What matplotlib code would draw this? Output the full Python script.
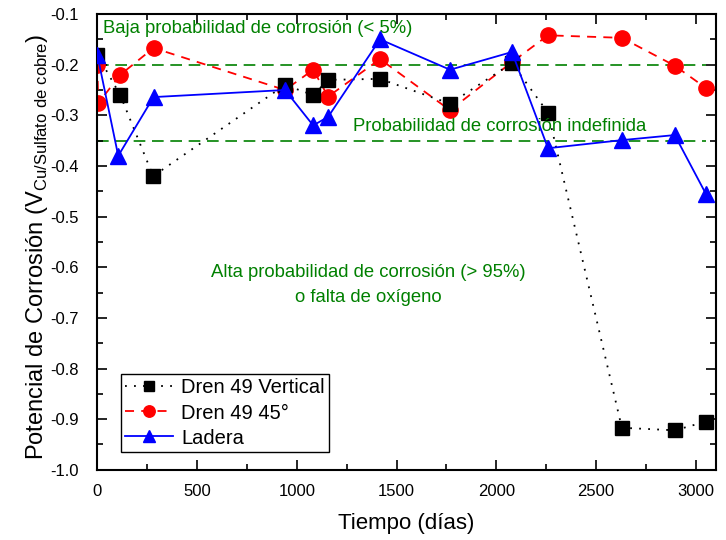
import matplotlib.pyplot as plt
from matplotlib.ticker import MultipleLocator

plt.rcParams['font.family'] = ['Liberation Sans', 'DejaVu Sans']
plt.rcParams['axes.unicode_minus'] = False
plt.rcParams['mathtext.fontset'] = 'custom'
plt.rcParams['mathtext.rm'] = 'Liberation Sans'

# Dren 49 Vertical
dias_vertical = [0, 115, 280, 941, 1082, 1157, 1417, 1768, 2078, 2259, 2629, 2894, 3050]
pot_vertical = [-0.18, -0.26, -0.42, -0.24, -0.26, -0.23, -0.228, -0.277, -0.197, -0.295, -0.917, -0.922, -0.905]

# Dren 49 45°
dias_45 = [0, 5, 115, 282, 941, 1082, 1157, 1417, 1768, 2078, 2259, 2629, 2894, 3050]
pot_45 = [-0.2, -0.276, -0.22, -0.167, -0.25, -0.21, -0.263, -0.189, -0.29, -0.195, -0.142, -0.147, -0.202, -0.246]

# Ladera
dias_ladera = [0, 105, 282, 941, 1082, 1157, 1417, 1768, 2078, 2259, 2629, 2894, 3050]
pot_ladera = [-0.18, -0.38, -0.264, -0.25, -0.32, -0.303, -0.15, -0.21, -0.175, -0.365, -0.349, -0.339, -0.455]

limites = [-0.2, -0.35]

fig, ax = plt.subplots(figsize=(7.26, 5.4), dpi=100)
fig.subplots_adjust(left=0.134, right=0.986, top=0.974, bottom=0.13)

for y in limites:
    ax.plot([0, 3050], [y, y], color='green', linestyle=(0, (7, 4)), linewidth=1.2, zorder=1)

ax.plot(dias_vertical, pot_vertical, color='black', linestyle=(0, (1, 4)), linewidth=1.3,
        marker='s', markersize=10, label='Dren 49 Vertical', zorder=3)
ax.plot(dias_45, pot_45, color='red', linestyle=(0, (5, 4)), linewidth=1.3,
        marker='o', markersize=11, label='Dren 49 45°', zorder=2)
ax.plot(dias_ladera, pot_ladera, color='blue', linestyle='-', linewidth=1.3,
        marker='^', markersize=12, label='Ladera', zorder=4)

ax.text(30, -0.128, 'Baja probabilidad de corrosión (< 5%)', color='green', fontsize=13.3, va='center')
ax.text(1282, -0.323, 'Probabilidad de corrosión indefinida', color='green', fontsize=13.3, va='center')
ax.text(1357, -0.635, 'Alta probabilidad de corrosión (> 95%)\no falta de oxígeno', color='green',
        fontsize=13.3, ha='center', va='center', linespacing=1.6)

ax.set_xlim(0, 3100)
ax.set_ylim(-1.0, -0.1)
ax.xaxis.set_major_locator(MultipleLocator(500))
ax.xaxis.set_minor_locator(MultipleLocator(250))
ax.yaxis.set_major_locator(MultipleLocator(0.1))
ax.yaxis.set_minor_locator(MultipleLocator(0.05))
ax.tick_params(which='both', direction='in', top=True, right=True, labelsize=12, width=1.2)
ax.tick_params(which='major', length=7)
ax.tick_params(which='minor', length=4)
ax.tick_params(axis='x', pad=10)
ax.tick_params(axis='y', pad=13)
for s in ax.spines.values():
    s.set_linewidth(1.5)

ax.set_xlabel('Tiempo (días)', fontsize=16, labelpad=10)
ax.set_ylabel('Potencial de Corrosión (V$_{\\mathregular{Cu/Sulfato\\ de\\ cobre}}$)', fontsize=17)
ax.yaxis.set_label_coords(-0.076, 0.49)

ax.legend(loc='lower left', bbox_to_anchor=(0.038, 0.04), fontsize=14.5, fancybox=False,
          edgecolor='black', framealpha=1, handlelength=2.4, borderpad=0.2, labelspacing=0.3,
          markerscale=0.75, handletextpad=0.4, borderaxespad=0.0)

plt.savefig('out.png', dpi=100)
